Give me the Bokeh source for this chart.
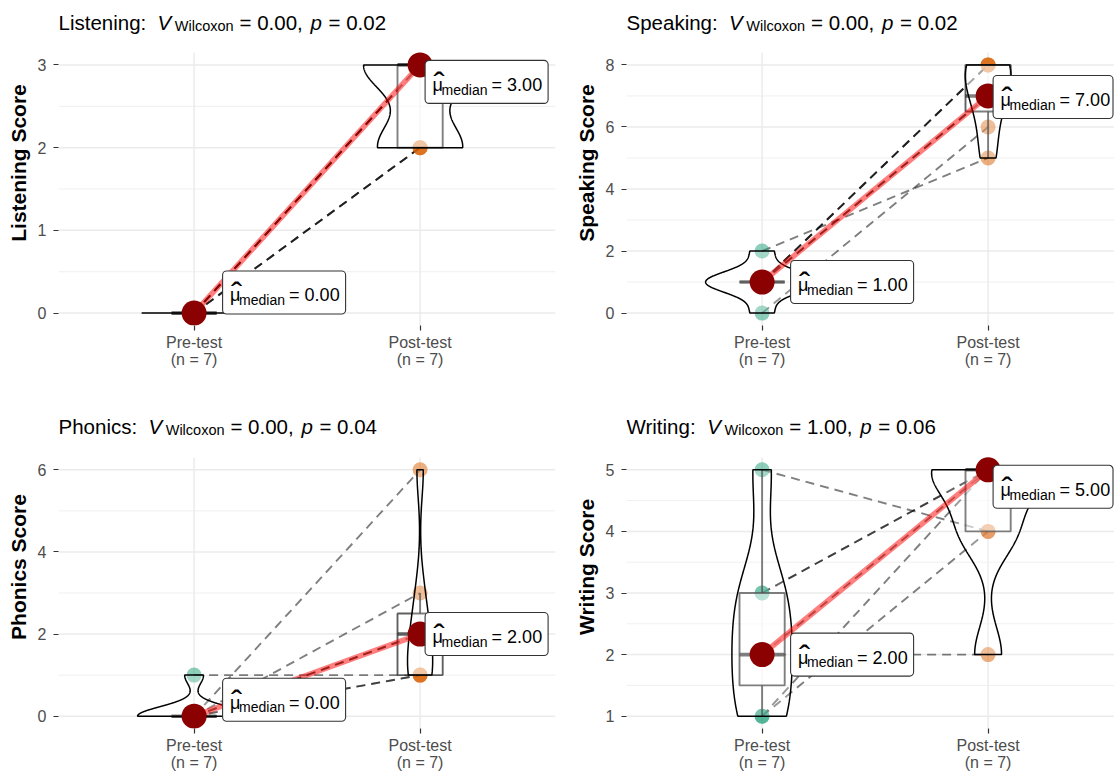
import numpy as np
from bokeh.plotting import figure
from bokeh.models import Range1d, FixedTicker, Label
from bokeh.layouts import column, row
from bokeh.embed import file_html
from bokeh.resources import INLINE

# ---------------- data ----------------
conditions = ["Pre-test", "Post-test"]
n_per_group = [7, 7]
skills = ["Listening", "Speaking", "Phonics", "Writing"]

listening_pre = [0, 0, 0, 0, 0, 0, 0]
listening_post = [3, 3, 3, 3, 2, 2, 2]
speaking_pre = [1, 1, 1, 1, 1, 0, 2]
speaking_post = [8, 8, 8, 7, 7, 6, 5]
phonics_pre = [0, 0, 1, 0, 0, 0, 0]
phonics_post = [6, 3, 1, 1, 1, 2, 2]
writing_pre = [5, 2, 3, 3, 1, 1, 2]
writing_post = [4, 2, 5, 5, 5, 4, 5]

v_wilcoxon = ["0.00", "0.00", "0.00", "1.00"]
p_values = ["0.02", "0.02", "0.04", "0.06"]

listening_ticks = [0, 1, 2, 3]
speaking_ticks = [0, 2, 4, 6, 8]
phonics_ticks = [0, 2, 4, 6]
writing_ticks = [1, 2, 3, 4, 5]

# ---------------- style ----------------
FONT = "Liberation Sans"
PRE_COL = "#1B9E77"
POST_COL = "#D95F02"
GRID = "#EBEBEB"
PX_PER_X = 226.0

# Arial/Liberation advance widths (1/1000 em) for title prefix spacing
ADV = {' ': 278, ':': 278, 'L': 556, 'S': 667, 'P': 667, 'W': 944, 'a': 556, 'c': 500,
       'e': 556, 'g': 556, 'h': 556, 'i': 222, 'k': 500, 'n': 556, 'o': 556, 'p': 556,
       'r': 333, 's': 500, 't': 278}


def text_w(s, size):
    return sum(ADV.get(ch, 556) for ch in s) * size / 1000.0


def bw_nrd0(x):
    x = np.asarray(x, float)
    hi = np.std(x, ddof=1)
    q75, q25 = np.percentile(x, [75, 25])
    lo = min(hi, (q75 - q25) / 1.34)
    if lo == 0:
        lo = hi if hi > 0 else (abs(x[0]) if x[0] != 0 else 1.0)
    return 0.9 * lo * len(x) ** -0.2


def kde(x, grid, bw):
    x = np.asarray(x, float)
    z = (grid[:, None] - x[None, :]) / bw
    return np.exp(-0.5 * z ** 2).sum(1) / (len(x) * bw * np.sqrt(2 * np.pi))


def make_panel(name, pre, post, ticks, vstat, pval, col, rw, label_dy):
    pre = np.asarray(pre, float)
    post = np.asarray(post, float)
    lo = min(pre.min(), post.min())
    hi = max(pre.max(), post.max())
    pad = 0.05 * (hi - lo)
    y0, y1 = lo - pad, hi + pad

    # panel geometry (px)
    left = 58 if col == 0 else 69
    fw = 497 if col == 0 else 488
    right = 557 - left - fw
    top_gap = 52                      # title area kept inside the frame
    ph = 273 if rw == 0 else 271      # panel (data area) height
    fig_h = 405 if rw == 0 else 371
    bottom = fig_h - top_gap - ph
    fh = top_gap + ph
    x0 = 0.4
    x1 = x0 + fw / PX_PER_X
    ppx = fw / (x1 - x0)
    ppy = ph / (y1 - y0)
    y1_ext = y1 + top_gap / ppy

    p = figure(frame_width=fw, frame_height=fh, min_border_left=left, min_border_right=right,
               min_border_top=0, min_border_bottom=bottom,
               x_range=Range1d(x0, x1), y_range=Range1d(y0, y1_ext),
               output_backend="svg", toolbar_location=None, tools="", title=None)
    p.outline_line_color = None
    p.background_fill_color = "white"
    p.border_fill_color = "white"
    p.xgrid.visible = False
    p.ygrid.visible = False

    # axes
    step = ticks[1] - ticks[0]
    minor = [t + step / 2 for t in ticks[:-1]]
    p.yaxis.ticker = FixedTicker(ticks=ticks, minor_ticks=[])
    p.xaxis.ticker = FixedTicker(ticks=[1, 2], minor_ticks=[])
    p.xaxis.major_label_overrides = {
        i + 1: f"{conditions[i]}\n(n = {n_per_group[i]})" for i in range(2)}
    for ax in (p.xaxis[0], p.yaxis[0]):
        ax.axis_line_color = None
        ax.major_tick_line_color = "#333333"
        ax.major_tick_line_width = 1.2
        ax.major_tick_out = 5
        ax.major_tick_in = 0
        ax.minor_tick_line_color = None
        ax.major_label_text_font = FONT
        ax.major_label_text_font_size = "16px"
        ax.major_label_text_color = "#4D4D4D"
        ax.major_label_text_line_height = 1.0
    p.yaxis.major_label_standoff = 7
    p.xaxis.major_label_standoff = 3
    p.yaxis.axis_label = f"{name} Score"
    p.yaxis.axis_label_text_font = FONT
    p.yaxis.axis_label_text_font_style = "bold"
    p.yaxis.axis_label_text_font_size = "21px"
    p.yaxis.axis_label_text_color = "black"
    p.yaxis.axis_label_standoff = 5

    # panel grid (limited to the panel area)
    p.segment(x0=[x0] * len(minor), y0=minor, x1=[x1] * len(minor), y1=minor,
              line_color=GRID, line_width=0.8)
    p.segment(x0=[x0] * len(ticks), y0=ticks, x1=[x1] * len(ticks), y1=ticks,
              line_color=GRID, line_width=1.5)
    p.segment(x0=[1, 2], y0=[y0, y0], x1=[1, 2], y1=[y1, y1],
              line_color=GRID, line_width=1.5)

    # paired dashed paths
    p.multi_line(xs=[[1, 2] for _ in range(len(pre))],
                 ys=[[a, b] for a, b in zip(pre, post)],
                 line_color="black", line_alpha=0.5, line_width=1.9, line_dash="9 6")

    # individual points
    p.scatter(x=[1] * len(pre), y=pre, size=15, fill_color=PRE_COL, fill_alpha=0.5,
              line_color=None)
    p.scatter(x=[2] * len(post), y=post, size=15, fill_color=POST_COL, fill_alpha=0.5,
              line_color=None)

    # boxplots
    for c, vals in ((1, pre), (2, post)):
        q1, med, q3 = np.percentile(vals, [25, 50, 75])
        iqr = q3 - q1
        lw = vals[vals >= q1 - 1.5 * iqr].min()
        uw = vals[vals <= q3 + 1.5 * iqr].max()
        p.quad(left=[c - 0.1], right=[c + 0.1], bottom=[q1], top=[q3],
               fill_color="white", fill_alpha=0.5, line_color="#2b2b2b", line_alpha=0.75,
               line_width=1.9)
        if uw > q3:
            p.segment(x0=[c], y0=[q3], x1=[c], y1=[uw], line_color="#2b2b2b",
                      line_alpha=0.75, line_width=1.9)
        if lw < q1:
            p.segment(x0=[c], y0=[q1], x1=[c], y1=[lw], line_color="#2b2b2b",
                      line_alpha=0.75, line_width=1.9)
        p.segment(x0=[c - 0.1], y0=[med], x1=[c + 0.1], y1=[med], line_color="#2b2b2b",
                  line_alpha=0.75, line_width=3.6)

    # violins (scale = "area", trimmed)
    dens = []
    for c, vals in ((1, pre), (2, post)):
        bw = bw_nrd0(vals)
        if vals.min() == vals.max():
            grid = np.array([vals.min()])
        else:
            grid = np.linspace(vals.min(), vals.max(), 512)
        dens.append((c, grid, kde(vals, grid, bw)))
    dmax = max(d.max() for _, _, d in dens)
    for c, grid, d in dens:
        hw = 0.25 * d / dmax
        xs = np.concatenate([c - hw, (c + hw)[::-1]])
        ys = np.concatenate([grid, grid[::-1]])
        p.patch(xs, ys, fill_color="white", fill_alpha=0.2, line_color="black",
                line_width=1.5)

    # centrality path + points
    meds = [float(np.median(pre)), float(np.median(post))]
    p.line([1, 2], meds, line_color="red", line_alpha=0.5, line_width=5.5)
    p.scatter([1, 2], meds, size=25, fill_color="#8B0000", line_color=None)

    # median labels
    for c, m, dyc in ((1, meds[0], label_dy[0]), (2, meds[1], label_dy[1])):
        L = 28.5 if c == 1 else 5.0
        left_px = (c - x0) * ppx + L
        bwid = min(123.0, fw - left_px - 1.5)
        btop = dyc - 21.5  # screen px relative to point (down positive)
        bbot = dyc + 21.5
        p.quad(left=[c + L / ppx], right=[c + (L + bwid) / ppx],
               top=[m - btop / ppy], bottom=[m - bbot / ppy],
               fill_color="white", line_color="#333333", line_width=1.1,
               border_radius=4)
        parts = [("\u03bc", 18, L + 7.5, btop + 24.5),
                 ("\u02c6", 34, L + 8.5, btop + 23.5),
                 ("median", 14, L + 16.5, btop + 29.3),
                 (f"= {m:.2f}", 18, L + 66.5, btop + 24.5)]
        for txt, sz, dx, base in parts:
            p.add_layout(Label(x=c, y=m, x_offset=dx, y_offset=-base, text=txt,
                               text_font=FONT, text_font_size=f"{sz}px",
                               text_color="black", text_baseline="alphabetic",
                               text_align="left"))

    # title (composite plotmath-like)
    T = 20.5
    prefix = f"{name}:"
    vx = text_w(prefix, T) + 11.3
    tparts = [(prefix, "normal", T, 0.0, 0.0),
              ("V", "italic", T, vx, 0.0),
              ("Wilcoxon", "normal", 14.5, vx + 17.3, -3.0),
              (f"= {vstat},", "normal", T, vx + 82.0, 0.0),
              ("p", "italic", T, vx + 153.0, 0.0),
              (f"= {pval}", "normal", T, vx + 171.0, 0.0)]
    ty = 30.0 if rw == 0 else 31.0
    for txt, style, sz, dx, dy in tparts:
        p.add_layout(Label(x=x0, y=y1, x_offset=dx, y_offset=ty + dy, text=txt,
                           text_font=FONT, text_font_size=f"{sz}px",
                           text_font_style=style, text_color="black",
                           text_baseline="alphabetic", text_align="left"))
    return p


p1 = make_panel(skills[0], listening_pre, listening_post, listening_ticks,
                v_wilcoxon[0], p_values[0], 0, 0, (-20.6, 17.0))
p2 = make_panel(skills[1], speaking_pre, speaking_post, speaking_ticks,
                v_wilcoxon[1], p_values[1], 1, 0, (0.0, 1.0))
p3 = make_panel(skills[2], phonics_pre, phonics_post, phonics_ticks,
                v_wilcoxon[2], p_values[2], 0, 1, (-16.5, 0.0))
p4 = make_panel(skills[3], writing_pre, writing_post, writing_ticks,
                v_wilcoxon[3], p_values[3], 1, 1, (0.0, 17.0))

layout = column(row(p1, p2), row(p3, p4))
open("out.html", "w").write(file_html(layout, INLINE))
